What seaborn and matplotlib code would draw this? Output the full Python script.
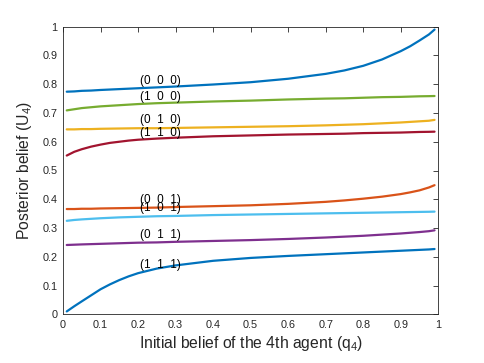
import matplotlib
matplotlib.use("Agg")
import matplotlib.pyplot as plt
import seaborn as sns
import pandas as pd

sns.set_style("white")
plt.rcParams['font.family'] = ['Liberation Sans', 'DejaVu Sans']
plt.rcParams['mathtext.fontset'] = 'custom'
plt.rcParams['mathtext.rm'] = 'Liberation Sans'
plt.rcParams['mathtext.it'] = 'Liberation Sans'

q4 = [0.01, 0.03, 0.05, 0.075, 0.1, 0.125, 0.15, 0.175, 0.2, 0.25, 0.3, 0.4, 0.5,
      0.6, 0.7, 0.75, 0.8, 0.85, 0.9, 0.925, 0.95, 0.975, 0.99]

u_000 = [0.774, 0.775, 0.777, 0.778, 0.780, 0.7815, 0.783, 0.7845, 0.786, 0.789, 0.792, 0.799, 0.807,
         0.819, 0.836, 0.848, 0.864, 0.886, 0.915, 0.932, 0.952, 0.973, 0.990]
u_100 = [0.709, 0.713, 0.717, 0.720, 0.723, 0.725, 0.727, 0.729, 0.731, 0.734, 0.736, 0.740, 0.743,
         0.747, 0.750, 0.751, 0.753, 0.755, 0.756, 0.757, 0.758, 0.7585, 0.759]
u_010 = [0.643, 0.643, 0.644, 0.644, 0.645, 0.6455, 0.646, 0.6465, 0.647, 0.647, 0.648, 0.650, 0.652,
         0.654, 0.657, 0.659, 0.661, 0.664, 0.667, 0.669, 0.671, 0.673, 0.676]
u_110 = [0.552, 0.565, 0.574, 0.583, 0.590, 0.596, 0.600, 0.604, 0.607, 0.611, 0.614, 0.619, 0.622,
         0.625, 0.627, 0.628, 0.630, 0.631, 0.632, 0.633, 0.634, 0.6345, 0.635]
u_001 = [0.366, 0.366, 0.367, 0.367, 0.368, 0.3685, 0.369, 0.3695, 0.370, 0.371, 0.373, 0.376, 0.379,
         0.384, 0.391, 0.396, 0.402, 0.409, 0.418, 0.424, 0.431, 0.441, 0.449]
u_101 = [0.325, 0.328, 0.330, 0.332, 0.334, 0.3355, 0.337, 0.338, 0.339, 0.341, 0.342, 0.345, 0.347,
         0.349, 0.351, 0.352, 0.353, 0.354, 0.355, 0.3555, 0.356, 0.3565, 0.357]
u_011 = [0.241, 0.242, 0.243, 0.244, 0.245, 0.246, 0.247, 0.248, 0.249, 0.250, 0.252, 0.255, 0.258,
         0.262, 0.267, 0.270, 0.273, 0.277, 0.281, 0.2835, 0.286, 0.289, 0.292]
u_111 = [0.010, 0.028, 0.045, 0.066, 0.087, 0.104, 0.119, 0.132, 0.143, 0.159, 0.170, 0.186, 0.196,
         0.203, 0.209, 0.212, 0.215, 0.218, 0.221, 0.2225, 0.224, 0.2255, 0.227]

labels = ['(0  0  0)', '(1  0  0)', '(0  1  0)', '(1  1  0)',
          '(0  0  1)', '(1  0  1)', '(0  1  1)', '(1  1  1)']
label_y = [0.812, 0.754, 0.676, 0.629, 0.397, 0.368, 0.276, 0.171]
colors = ['#0072BD', '#77AC30', '#EDB120', '#A2142F',
          '#D95319', '#4DBEEE', '#7E2F8E', '#0072BD']
series = [u_000, u_100, u_010, u_110, u_001, u_101, u_011, u_111]

ticks = [0, 0.1, 0.2, 0.3, 0.4, 0.5, 0.6, 0.7, 0.8, 0.9, 1]
tick_labels = ['0', '0.1', '0.2', '0.3', '0.4', '0.5', '0.6', '0.7', '0.8', '0.9', '1']

fig = plt.figure(figsize=(4.85, 3.63), dpi=100)
ax = fig.add_axes([63 / 485, 1 - 314.3 / 363, (438.3 - 63) / 485, (314.3 - 26.7) / 363])

for vals, col in zip(series, colors):
    df = pd.DataFrame({'q4': q4, 'U4': vals})
    sns.lineplot(data=df, x='q4', y='U4', color=col, linewidth=1.6, ax=ax)

for lab, ly in zip(labels, label_y):
    ax.text(0.205, ly, lab, fontsize=8.5, ha='left', va='center', color='black')

ax.set_xlim(0, 1)
ax.set_ylim(0, 1)
ax.set_xticks(ticks)
ax.set_xticklabels(tick_labels)
ax.set_yticks(ticks)
ax.set_yticklabels(tick_labels)
ax.tick_params(direction='in', length=3.5, width=0.6, colors='#262626',
               labelsize=7.8, top=True, right=True, pad=4)
for s in ax.spines.values():
    s.set_visible(True)
    s.set_color('#262626')
    s.set_linewidth(0.6)
ax.set_xlabel('Initial belief of the 4th agent (q$_4$)', fontsize=11.3, color='#262626', labelpad=3)
ax.set_ylabel('Posterior belief (U$_4$)', fontsize=11.3, color='#262626', labelpad=6)

fig.savefig('out.png', dpi=100)
